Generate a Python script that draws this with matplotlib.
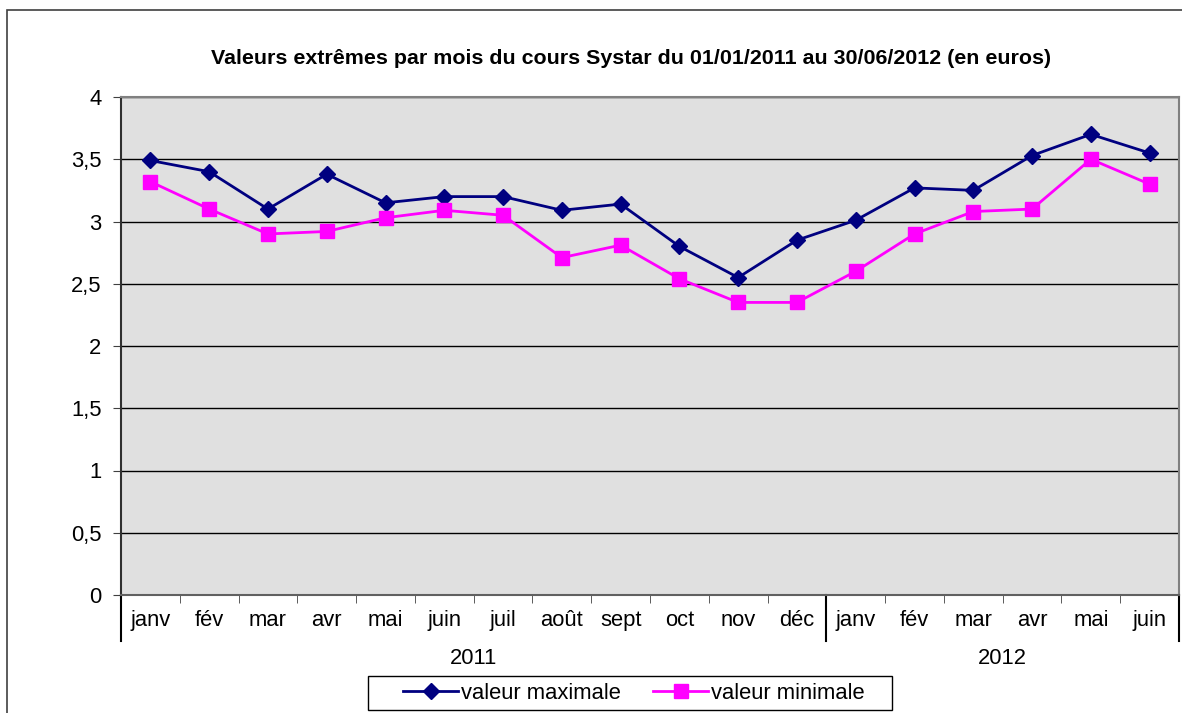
import matplotlib.pyplot as plt
import matplotlib.transforms as mtransforms
from matplotlib.patches import Rectangle

plt.rcParams['font.family'] = ['Liberation Sans', 'DejaVu Sans']

mois = ['janv', 'fév', 'mar', 'avr', 'mai', 'juin', 'juil', 'août', 'sept',
        'oct', 'nov', 'déc', 'janv', 'fév', 'mar', 'avr', 'mai', 'juin']
annees = ['2011', '2012']
nb_mois = [12, 6]
val_max = [3.49, 3.40, 3.10, 3.38, 3.15, 3.20, 3.20, 3.09, 3.14,
           2.80, 2.55, 2.85, 3.01, 3.27, 3.25, 3.53, 3.70, 3.55]
val_min = [3.32, 3.10, 2.90, 2.92, 3.03, 3.09, 3.05, 2.71, 2.81,
           2.54, 2.35, 2.35, 2.60, 2.90, 3.08, 3.10, 3.50, 3.30]

fig = plt.figure(figsize=(11.82, 7.13), dpi=100)
ax = fig.add_axes([121/1182, 118/713, 1058/1182, 498/713])
ax.set_facecolor('#E0E0E0')

# cadre extérieur
fig.add_artist(Rectangle((7/1182, -0.05), 1.0, 0.05 + 1 - 10/713, transform=fig.transFigure,
                         fill=False, edgecolor='#404040', linewidth=1.2))

fs = 15.8
x = list(range(len(mois)))
ax.plot(x, val_max, color='#000080', marker='D', markersize=8.5, linewidth=2,
        label='valeur maximale', zorder=3)
ax.plot(x, val_min, color='#FF00FF', marker='s', markersize=10, linewidth=2,
        label='valeur minimale', zorder=3)

ax.set_xlim(-0.5, len(mois) - 0.5)
ax.set_ylim(0, 4)
ax.set_yticks([0, 0.5, 1, 1.5, 2, 2.5, 3, 3.5, 4])
ax.set_yticklabels(['0', '0,5', '1', '1,5', '2', '2,5', '3', '3,5', '4'], fontsize=fs)
ax.yaxis.grid(True, color='black', linewidth=1)
ax.set_axisbelow(True)

ax.set_xticks(x)
ax.set_xticklabels(mois, fontsize=fs)
ax.tick_params(axis='x', which='major', length=0, pad=11)
ax.set_xticks([i - 0.5 for i in range(len(mois) + 1)], minor=True)
ax.tick_params(axis='x', which='minor', length=6, color='#404040', direction='out')
ax.tick_params(axis='y', length=6, color='#404040', pad=8)

for s in ['top', 'right']:
    ax.spines[s].set_color('#808080')
    ax.spines[s].set_linewidth(1.5)
ax.spines['bottom'].set_color('#606060')
ax.spines['bottom'].set_linewidth(1.5)
ax.spines['left'].set_color('#303030')
ax.spines['left'].set_linewidth(1.5)

# séparateurs d'années et étiquettes
trans = mtransforms.blended_transform_factory(ax.transData, ax.transAxes)
debut = -0.5
ax.plot([debut, debut], [0, -0.092], color='black', linewidth=1.5, transform=trans, clip_on=False)
for an, n in zip(annees, nb_mois):
    fin = debut + n
    ax.plot([fin, fin], [0, -0.092], color='black', linewidth=1.5, transform=trans, clip_on=False)
    ax.text((debut + fin) / 2, -0.127, an, transform=trans, ha='center', va='center', fontsize=fs)
    debut = fin

fig.text(631/1182, 1 - 58/713, 'Valeurs extrêmes par mois du cours Systar du 01/01/2011 au 30/06/2012 (en euros)',
         fontsize=15.4, fontweight='bold', ha='center', va='center')

# légende (cadre dessiné à part pour avoir la marge horizontale d'Excel)
leg = ax.legend(loc='center', bbox_to_anchor=(0.485, -0.197), ncol=2, fontsize=fs,
                frameon=False, handlelength=2.5, columnspacing=1.45,
                handletextpad=0.15, borderpad=0.25, borderaxespad=0)
fig.add_artist(Rectangle((368/1182, 1 - 710/713), 524/1182, 34/713, transform=fig.transFigure,
                         fill=False, edgecolor='black', linewidth=1))

fig.savefig('out.png', dpi=100)
